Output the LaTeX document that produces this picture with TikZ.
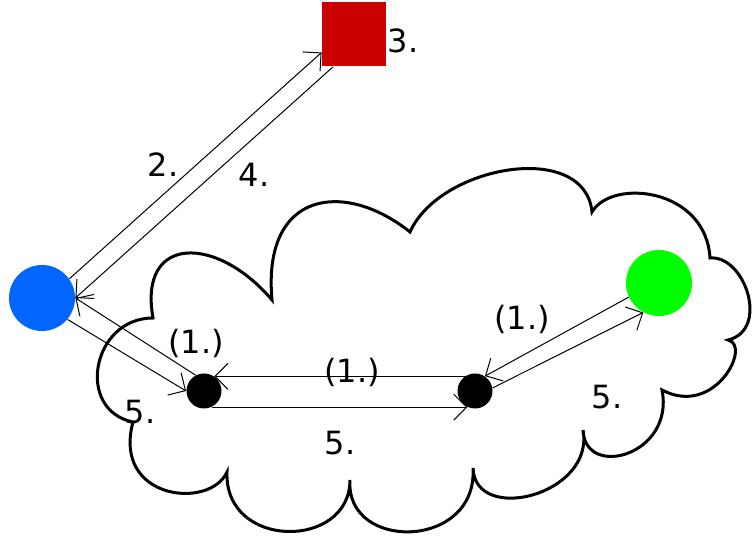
\documentclass[tikz,border=0pt]{standalone}
\usepackage{fontspec}
\setmainfont{DejaVu Sans}
\usetikzlibrary{arrows.meta}
\definecolor{myred}{RGB}{204,0,0}
\definecolor{myblue}{RGB}{0,102,255}
\definecolor{mygreen}{RGB}{0,255,0}
\begin{document}
\begin{tikzpicture}[x=0.5pt,y=-0.5pt,
  dot/.style={circle,fill=black,inner sep=0pt,minimum size=17.5pt},
  ball/.style={circle,inner sep=0pt,minimum size=33pt},
  lbl/.style={font=\fontsize{16}{19}\selectfont,inner sep=0pt},
  arr/.style={line width=0.5pt,-{Straight Barb[length=6.5pt,width=13pt]}},
  cloudline/.style={line width=1.5pt}]
\useasboundingbox (0,0) rectangle (752,539);
\draw[cloudline] (153,318) .. controls (138,234) and (217,235) .. (272,300)
 .. controls (262,190) and (345,180) .. (410,232)
 .. controls (440,165) and (585,140) .. (592,212)
 .. controls (612,178) and (706,188) .. (710,258)
 .. controls (745,255) and (770,330) .. (728,340)
 .. controls (752,345) and (715,418) .. (662,390)
 .. controls (675,455) and (585,480) .. (583,430)
 .. controls (595,495) and (475,525) .. (473,468)
 .. controls (478,550) and (345,552) .. (350,480)
 .. controls (350,550) and (224,550) .. (227,472)
 .. controls (210,510) and (112,500) .. (133,422)
 .. controls (75,410) and (92,318) .. (153,318) -- cycle;
\node[ball,fill=myblue] (blue) at (42,298) {};
\node[ball,fill=mygreen] (green) at (659,283) {};
\node[fill=myred,inner sep=0pt,minimum size=32pt] (red) at (354,34.5) {};
\node[dot] (bl) at (204,391) {};
\node[dot] (br) at (475,391) {};
\draw[arr] (blue.35) -- (red.209);
\draw[arr] (red.237) -- (blue.east);
\draw[arr] (bl.118) -- (blue.east);
\draw[arr] (blue.-40) -- (bl.west);
\draw[arr] (br.125) -- (bl.55);
\draw[arr] (bl.-65) -- (br.-115);
\draw[arr] (green.205) -- (br.56);
\draw[arr] (br.10) -- (green.242);
\node[lbl] (l3) at (403,41) {3.};
\node[lbl] (l2) at (163,165) {2.};
\node[lbl] (l4) at (254,175) {4.};
\node[lbl] (l1a) at (196,343) {(1.)};
\node[lbl] (l1b) at (352,372) {(1.)};
\node[lbl] (l1c) at (522,319) {(1.)};
\node[lbl] (l5a) at (140,412) {5.};
\node[lbl] (l5b) at (340,443) {5.};
\node[lbl] (l5c) at (607,397) {5.};
\end{tikzpicture}
\end{document}
